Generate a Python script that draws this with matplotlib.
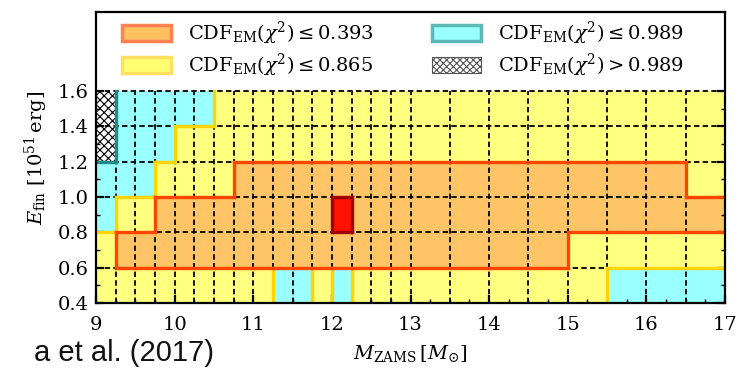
#!/usr/bin/env python3
"""Explosion-energy vs progenitor-mass grid, coloured by CDF_EM(chi^2) class."""

import matplotlib

matplotlib.use("Agg")  # headless

import matplotlib.pyplot as plt
import matplotlib.ticker as mtick
from matplotlib.colors import BoundaryNorm, ListedColormap
from matplotlib.patches import Patch

plt.rcParams.update({
    "font.family": "DejaVu Serif",
    "mathtext.fontset": "dejavuserif",
    "hatch.linewidth": 0.8,
})

# ── grid data ────────────────────────────────────────────────────────────────
M_EDGES = [9.0, 9.25, 9.5, 9.75, 10.0, 10.25, 10.5, 10.75, 11.0, 11.25, 11.5,
           11.75, 12.0, 12.25, 12.5, 12.75, 13.0, 13.5, 14.0, 14.5, 15.0, 15.5,
           16.0, 16.5, 17.0]
E_EDGES = [0.4, 0.6, 0.8, 1.0, 1.2, 1.4, 1.6]

# class of each cell, bottom row first:
# 0 best fit, 1 CDF<=0.393, 2 CDF<=0.865, 3 CDF<=0.989, 4 CDF>0.989
CDF_CLASS = [
    [2, 2, 2, 2, 2, 2, 2, 2, 2, 3, 3, 2, 3, 2, 2, 2, 2, 2, 2, 2, 2, 3, 3, 3],
    [2, 1, 1, 1, 1, 1, 1, 1, 1, 1, 1, 1, 1, 1, 1, 1, 1, 1, 1, 1, 2, 2, 2, 2],
    [3, 2, 2, 1, 1, 1, 1, 1, 1, 1, 1, 1, 0, 1, 1, 1, 1, 1, 1, 1, 1, 1, 1, 1],
    [3, 3, 3, 2, 2, 2, 2, 1, 1, 1, 1, 1, 1, 1, 1, 1, 1, 1, 1, 1, 1, 1, 1, 2],
    [4, 3, 3, 3, 2, 2, 2, 2, 2, 2, 2, 2, 2, 2, 2, 2, 2, 2, 2, 2, 2, 2, 2, 2],
    [4, 3, 3, 3, 3, 3, 2, 2, 2, 2, 2, 2, 2, 2, 2, 2, 2, 2, 2, 2, 2, 2, 2, 2],
]

LEGEND_LABELS = [
    r"$\mathrm{CDF}_{\mathrm{EM}}(\chi^2) \leq 0.393$",
    r"$\mathrm{CDF}_{\mathrm{EM}}(\chi^2) \leq 0.865$",
    r"$\mathrm{CDF}_{\mathrm{EM}}(\chi^2) \leq 0.989$",
    r"$\mathrm{CDF}_{\mathrm{EM}}(\chi^2) > 0.989$",
]

FILL = ["#ff1200", "#ffc466", "#ffff80", "#99ffff", "white"]
EDGE = ["#a00000", "#ff4500", "#ffd400", "#1f8c8c"]


def _boundaries(ax):
    """Thick lines where neighbouring cells change class (colour of the better class)."""
    nrow, ncol = len(CDF_CLASS), len(CDF_CLASS[0])
    for r in range(nrow):
        for c in range(ncol):
            k = CDF_CLASS[r][c]
            if c + 1 < ncol and CDF_CLASS[r][c + 1] != k:
                lo = min(k, CDF_CLASS[r][c + 1])
                ax.plot([M_EDGES[c + 1]] * 2, [E_EDGES[r], E_EDGES[r + 1]],
                        color=EDGE[lo], lw=2.4, solid_capstyle="projecting", zorder=3 + (3 - lo) * 0.1)
            if r + 1 < nrow and CDF_CLASS[r + 1][c] != k:
                lo = min(k, CDF_CLASS[r + 1][c])
                ax.plot([M_EDGES[c], M_EDGES[c + 1]], [E_EDGES[r + 1]] * 2,
                        color=EDGE[lo], lw=2.4, solid_capstyle="projecting", zorder=3 + (3 - lo) * 0.1)


def main():
    fig = plt.figure(figsize=(7.39, 3.70), dpi=100)
    ax = fig.add_axes([96 / 739, 67 / 370, 629 / 739, 291 / 370])

    cmap = ListedColormap(FILL)
    norm = BoundaryNorm([-0.5, 0.5, 1.5, 2.5, 3.5, 4.5], cmap.N)
    ax.pcolormesh(M_EDGES, E_EDGES, CDF_CLASS, cmap=cmap, norm=norm, zorder=1)

    # hatched cells (worst fits)
    for r, row in enumerate(CDF_CLASS):
        for c, k in enumerate(row):
            if k == 4:
                ax.bar(M_EDGES[c], E_EDGES[r + 1] - E_EDGES[r], width=M_EDGES[c + 1] - M_EDGES[c],
                       bottom=E_EDGES[r], align="edge", color="white", edgecolor="black",
                       hatch="xxxx", linewidth=0, zorder=1.5)

    dash = (0, (3, 1.8))
    ax.vlines(M_EDGES[1:-1], E_EDGES[0], E_EDGES[-1], colors="black", linestyles=dash,
              lw=1.3, zorder=2)
    ax.hlines(E_EDGES[1:], M_EDGES[0], M_EDGES[-1], colors="black", linestyles=dash,
              lw=1.3, zorder=2)
    _boundaries(ax)

    ax.set_xlim(M_EDGES[0], M_EDGES[-1])
    ax.set_ylim(0.4, 2.047)
    ax.set_xticks(range(9, 18))
    ax.xaxis.set_minor_locator(mtick.MultipleLocator(0.25))
    ax.set_yticks(E_EDGES)
    ax.yaxis.set_major_formatter(mtick.FormatStrFormatter("%.1f"))
    ax.yaxis.set_minor_locator(mtick.FixedLocator([0.5, 0.7, 0.9, 1.1, 1.3, 1.5]))
    ax.tick_params(which="both", direction="in", top=False, right=True, labelsize=14)
    ax.tick_params(which="major", length=6, width=1.6)
    ax.tick_params(which="minor", length=3, width=1.0)
    ax.tick_params(axis="x", pad=9)
    ax.tick_params(axis="y", pad=5)
    for sp in ax.spines.values():
        sp.set_linewidth(1.6)
        sp.set_zorder(5)

    ax.set_xlabel(r"$M_{\mathrm{ZAMS}}\,[M_{\odot}]$", fontsize=14, labelpad=7)
    ax.set_ylabel(r"$E_{\mathrm{fin}}\ [10^{51}\,\mathrm{erg}]$", fontsize=14, labelpad=6)

    handles = [
        Patch(facecolor="#ffc060", edgecolor="#ff8050", lw=2.5),
        Patch(facecolor="#ffff70", edgecolor="#ffe060", lw=2.5),
        Patch(facecolor="#99ffff", edgecolor="#5fb8b8", lw=2.5),
        Patch(facecolor="white", edgecolor="#555555", hatch="xxxxx", lw=0.8),
    ]
    fig.legend(handles, LEGEND_LABELS, ncol=2, loc="upper left",
               bbox_to_anchor=(122 / 739, 1 - 20 / 370), bbox_transform=fig.transFigure,
               frameon=False, fontsize=14, borderpad=0, borderaxespad=0,
               handlelength=2.5, handleheight=0.9, handletextpad=0.9,
               labelspacing=0.25, columnspacing=3.0)

    # slide caption fragment at the lower left
    fig.text(214 / 739, 9 / 370, "a et al. (2017)", ha="right", va="baseline",
             fontsize=21, family="Liberation Sans", color="#111111")

    fig.savefig("out.png", dpi=100)
    plt.close(fig)


if __name__ == "__main__":
    main()
